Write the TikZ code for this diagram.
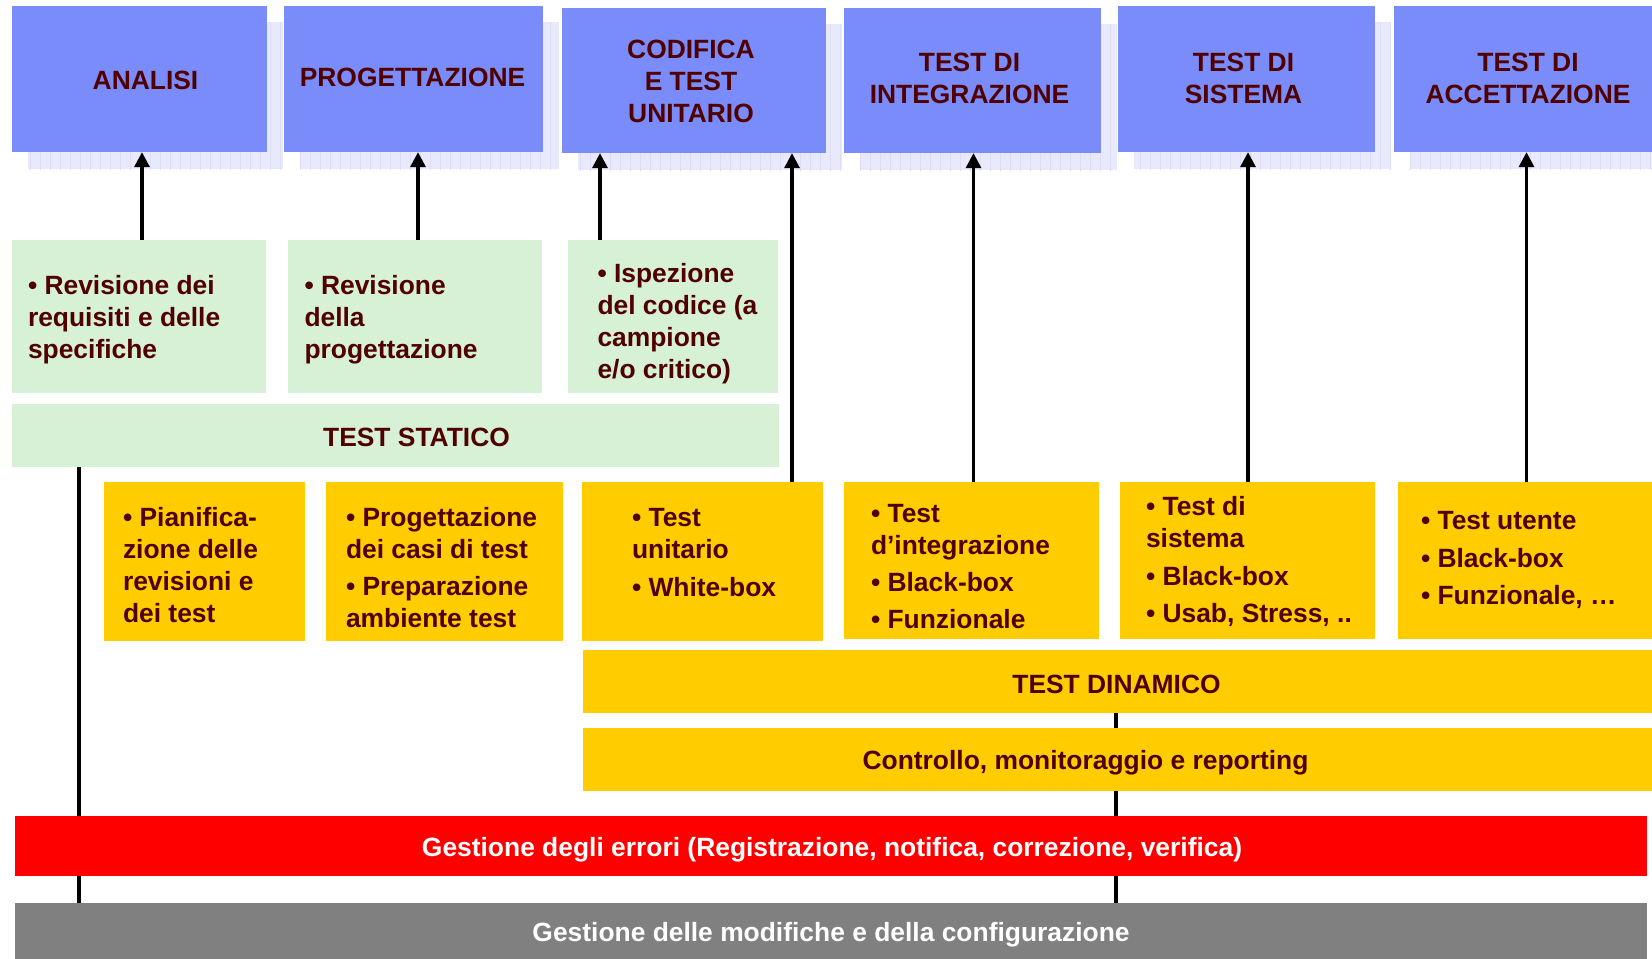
\documentclass[tikz,border=0pt]{standalone}
\usepackage{fontspec}
\setmainfont{Liberation Sans}
\usetikzlibrary{arrows.meta,backgrounds}

\definecolor{phaseblue}{RGB}{122,139,250}
\definecolor{shadowfill}{RGB}{233,233,252}
\definecolor{shadowgrid}{RGB}{221,221,250}
\definecolor{staticgreen}{RGB}{214,241,214}
\definecolor{dynyellow}{RGB}{255,204,0}
\definecolor{ink}{RGB}{80,0,0}
\definecolor{errred}{RGB}{255,0,0}
\definecolor{cfggray}{RGB}{128,128,128}

\newcommand\bodyfont{\bfseries\fontsize{19.8pt}{24pt}\selectfont}

% box node given by its corner coordinates (in pixels); its label is set
% separately, moved by (#8,#9) pixels from the box centre
\newcommand\rbox[9]{%
  \node[#1, minimum width={((#5)-(#3))*0.75pt}, minimum height={((#6)-(#4))*0.75pt}]
    (#2) at ({((#3)+(#5))/2},{((#4)+(#6))/2}) {};
  \node[#1, fill=none, minimum width=0pt, minimum height=0pt]
    (#2-label) at ([shift={(#8,#9)}]#2.center) {#7};}

\tikzset{
  box/.style={draw=none, inner sep=0pt, outer sep=0pt, font=\bodyfont, align=center},
  phase/.style={box, fill=phaseblue, text=ink},
  review/.style={box, fill=staticgreen, text=ink},
  dyn/.style={box, fill=dynyellow, text=ink},
  errbar/.style={box, fill=errred, text=white},
  cfgbar/.style={box, fill=cfggray, text=white},
  txt/.style={inner sep=0pt, outer sep=0pt, anchor=west, align=left, text=ink, font=\bodyfont},
  link/.style={draw=black, line width=2.4pt},
  arr/.style={draw=black, line width=2.85pt, -{Triangle[length=11.3pt,width=11pt]}},
}

\begin{document}
\begin{tikzpicture}[x=0.75pt,y=-0.75pt]
\useasboundingbox (0,0) rectangle (1652,958);
\clip (0,0) rectangle (1652,958);

% development phases
\rbox{phase}{analisi}{12}{6}{267}{152}{ANALISI}{6}{1}
\rbox{phase}{progett}{284}{6}{543}{152}{PROGETTAZIONE}{-1}{-2}
\rbox{phase}{codifica}{562}{8}{826}{153}{CODIFICA\\E TEST\\UNITARIO}{-3}{1}
\rbox{phase}{integr}{844}{8}{1101}{153}{TEST DI\\INTEGRAZIONE}{-3}{-2.5}
\rbox{phase}{sistema}{1118}{6}{1375}{152}{TEST DI\\SISTEMA}{-3}{-1}
\rbox{phase}{accett}{1394}{6}{1658}{152}{TEST DI\\ACCETTAZIONE}{2}{-1}

% static test
\rbox{review}{g1}{12}{240}{266}{393}{}{0}{0}
\rbox{review}{g2}{288}{240}{542}{393}{}{0}{0}
\rbox{review}{g3}{568}{240}{778}{393}{}{0}{0}
\rbox{review}{static}{12}{404}{779}{467}{TEST STATICO}{21}{2}
\node[txt] (tg1) at (28,320) {• Revisione dei\\requisiti e delle\\specifiche};
\node[txt] (tg2) at (304.5,320) {• Revisione\\della\\progettazione};
\node[txt] (tg3) at (597.5,324) {• Ispezione\\del codice (a\\campione\\e/o critico)};

% dynamic test
\rbox{dyn}{y1}{104}{482}{305}{641}{}{0}{0}
\rbox{dyn}{y2}{326}{482}{563}{641}{}{0}{0}
\rbox{dyn}{y3}{582}{482}{823}{641}{}{0}{0}
\rbox{dyn}{y4}{844}{482}{1099}{639}{}{0}{0}
\rbox{dyn}{y5}{1120}{482}{1375}{639}{}{0}{0}
\rbox{dyn}{y6}{1398}{482}{1652}{639}{}{0}{0}
\node[txt] (ty1) at (123,565) {• Pianifica-\\zione delle\\revisioni e\\dei test};
\node[txt] (ty2) at (346,567.5) {• Progettazione\\dei casi di test\\[4pt]• Preparazione\\ambiente test};
\node[txt] (ty3) at (632,552.5) {• Test\\unitario\\[4pt]• White-box};
\node[txt] (ty4) at (871,566.5) {• Test\\d’integrazione\\[4pt]• Black-box\\[4pt]• Funzionale};
\node[txt] (ty5) at (1146,561.5) {• Test di\\sistema\\[4pt]• Black-box\\[4pt]• Usab, Stress, ..};
\node[txt] (ty6) at (1421,560) {• Test utente\\[4pt]• Black-box\\[4pt]• Funzionale, …};

\rbox{dyn}{dinamico}{583}{650}{1652}{713}{TEST DINAMICO}{-1}{3}
\rbox{dyn}{ctrl}{583}{728}{1652}{791}{Controllo, monitoraggio e reporting}{-32}{3}

% cross-cutting management
\rbox{errbar}{errori}{15}{816}{1647}{876}{Gestione degli errori (Registrazione, notifica, correzione, verifica)}{1}{4}
\rbox{cfgbar}{config}{15}{903}{1647}{960}{Gestione delle modifiche e della configurazione}{0}{3.5}

% grid shadows behind the phase boxes
\begin{scope}[on background layer]
  \foreach \n in {analisi,progett,codifica,integr,sistema,accett}{
    \begin{scope}
      \clip ([shift={(16,16)}]\n.north west) rectangle ([shift={(16,17)}]\n.south east);
      \fill[shadowfill] ([shift={(16,16)}]\n.north west) rectangle ([shift={(16,17)}]\n.south east);
      \draw[shadowgrid, line width=0.75pt, step=10] (\n.north west) grid ([shift={(30,30)}]\n.south east);
    \end{scope}
  }
\end{scope}

% column positions of the connectors
\coordinate (ca) at (142,0);
\coordinate (cp) at (418,0);
\coordinate (cc) at (600,0);
\coordinate (cu) at (792,0);
\coordinate (ci) at (973.5,0);
\coordinate (cs) at (1248,0);
\coordinate (cx) at (1526.5,0);
\coordinate (cl) at (79,0);
\coordinate (cr) at (1116,0);

\draw[arr] (g1.north -| ca) -- (analisi.south -| ca);
\draw[arr] (g2.north -| cp) -- (progett.south -| cp);
\draw[arr] (g3.north -| cc) -- (codifica.south -| cc);
\draw[arr] (y3.north -| cu) -- (codifica.south -| cu);
\draw[arr] (y4.north -| ci) -- (integr.south -| ci);
\draw[arr] (y5.north -| cs) -- (sistema.south -| cs);
\draw[arr] (y6.north -| cx) -- (accett.south -| cx);

\draw[link] (static.south -| cl) -- (errori.north -| cl);
\draw[link] (errori.south -| cl) -- (config.north -| cl);
\draw[link] (dinamico.south -| cr) -- (ctrl.north -| cr);
\draw[link] (ctrl.south -| cr) -- (errori.north -| cr);
\draw[link] (errori.south -| cr) -- (config.north -| cr);
\end{tikzpicture}
\end{document}
